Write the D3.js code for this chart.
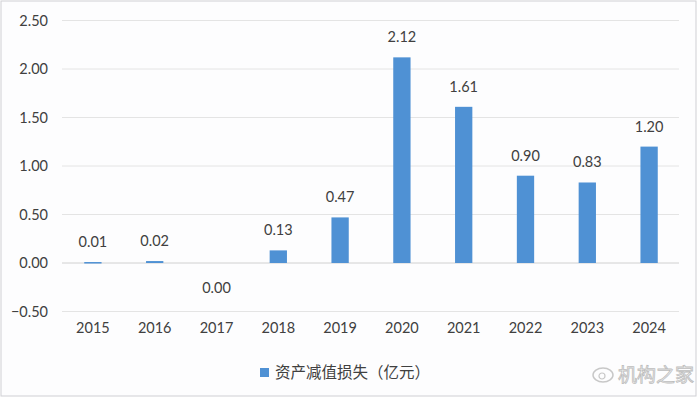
<!DOCTYPE html>
<html>
<head>
<meta charset="utf-8">
<script src="https://cdn.jsdelivr.net/npm/d3@7"></script>
<style>
  html, body { margin: 0; padding: 0; background: #fff; }
  svg { display: block; }
</style>
</head>
<body>
<svg id="chart" width="700" height="398"></svg>
<script>
const years = ["2015", "2016", "2017", "2018", "2019", "2020", "2021", "2022", "2023", "2024"];
const values = [0.01, 0.02, 0.00, 0.13, 0.47, 2.12, 1.61, 0.90, 0.83, 1.20];
const yTicks = [-0.5, 0, 0.5, 1.0, 1.5, 2.0, 2.5];
const seriesName = "资产减值损失（亿元）";

const svg = d3.select("#chart");
const width = +svg.attr("width");
const height = +svg.attr("height");
const font = "Lato, 'Noto Sans', sans-serif";

// frame
svg.append("rect")
  .attr("x", 1).attr("y", 1)
  .attr("width", width - 5).attr("height", height - 3)
  .attr("fill", "#fdfdfe")
  .attr("stroke", "#cfcfd4");

const x = d3.scaleBand().domain(years).range([62, 680]).paddingInner(0.72).paddingOuter(0.36);
const y = d3.scaleLinear().domain([-0.5, 2.5]).range([311.5, 20.5]);

// gridlines
svg.append("g")
  .selectAll("line")
  .data(yTicks)
  .join("line")
  .attr("x1", 62).attr("x2", 679)
  .attr("y1", d => y(d)).attr("y2", d => y(d))
  .attr("stroke", d => d === 0 ? "#d0d0d0" : "#e4e4e4")
  .attr("stroke-width", 1);

// y axis labels
const yAxis = d3.axisLeft(y).tickValues(yTicks).tickFormat(d3.format(".2f")).tickSize(0).tickPadding(0);
svg.append("g")
  .attr("transform", "translate(48,0)")
  .call(yAxis)
  .call(g => g.select(".domain").remove())
  .call(g => g.selectAll("text")
    .attr("font-family", font).attr("font-size", 14.5).attr("fill", "#404040"));

// x axis labels
const xAxis = d3.axisBottom(x).tickSize(0).tickPadding(0);
svg.append("g")
  .attr("transform", "translate(0,323)")
  .call(xAxis)
  .call(g => g.select(".domain").remove())
  .call(g => g.selectAll("text")
    .attr("font-family", font).attr("font-size", 14.5).attr("fill", "#404040"));

const data = years.map((yr, i) => ({ year: yr, value: values[i] }));

// bars (tiny non-zero values still get a visible stub)
svg.append("g")
  .selectAll("rect")
  .data(data.filter(d => d.value !== 0))
  .join("rect")
  .attr("x", d => x(d.year))
  .attr("width", x.bandwidth())
  .attr("y", d => y(Math.max(0, d.value)))
  .attr("height", d => Math.max(Math.abs(y(d.value) - y(0)), 1.5))
  .attr("fill", "#4f91d4");

// value labels
svg.append("g")
  .selectAll("text")
  .data(data)
  .join("text")
  .attr("x", d => x(d.year) + x.bandwidth() / 2)
  .attr("y", d => d.value > 0 ? y(d.value) - 15 : y(0) + 30)
  .attr("text-anchor", "middle")
  .attr("font-family", font).attr("font-size", 14.5).attr("fill", "#404040")
  .text(d => d3.format(".2f")(d.value));

// legend
const legend = svg.append("g").attr("transform", "translate(260,368)");
legend.append("rect").attr("width", 9).attr("height", 9).attr("fill", "#4f91d4");
legend.append("text")
  .attr("x", 15).attr("y", 10)
  .attr("font-family", "'Noto Sans CJK SC', sans-serif").attr("font-size", 15.5).attr("fill", "#404040")
  .text(seriesName);

// watermark
const wm = svg.append("g").attr("transform", "translate(592,372)");
wm.append("ellipse").attr("cx", 11).attr("cy", 3).attr("rx", 10).attr("ry", 7)
  .attr("fill", "none").attr("stroke", "#c8c8c8").attr("stroke-width", 1.5);
wm.append("circle").attr("cx", 10).attr("cy", 4).attr("r", 3)
  .attr("fill", "none").attr("stroke", "#c8c8c8").attr("stroke-width", 1.2);
wm.append("text")
  .attr("x", 26).attr("y", 10)
  .attr("font-family", "'Noto Sans CJK SC', sans-serif").attr("font-size", 19)
  .attr("fill", "#f4f4f4").attr("stroke", "#bdbdbd").attr("stroke-width", 0.8)
  .text("机构之家");
</script>
</body>
</html>
